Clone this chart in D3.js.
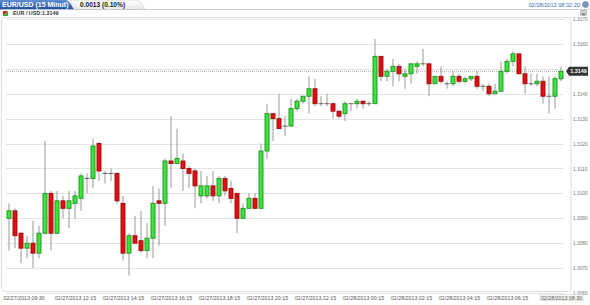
<!DOCTYPE html>
<html>
<head>
<meta charset="utf-8">
<script src="https://cdn.jsdelivr.net/npm/d3@7"></script>
<style>
  body { margin: 0; background: #fff; }
  svg { display: block; font-family: "Liberation Sans", Arial, sans-serif; }
</style>
</head>
<body>
<svg id="chart" width="590" height="305"></svg>
<script>
// 15 minute EUR/USD candles, 02/27/2013 09:30 -> 02/28/2013 08:30
var startTime = "02/27/2013 09:30"
var open  = [1.3090,1.3093,1.3084,1.3078,1.3080,1.3076,1.3084,1.3100,1.3084,1.3097,
             1.3094,1.3096,1.3098,1.3106,1.3106,1.3120,1.3108,1.3108,1.3108,1.3096,
             1.3076,1.3083,1.3081,1.3077,1.3082,1.3097,1.3096,1.3113,1.3112,1.3113,
             1.3110,1.3109,1.3099,1.3099,1.3103,1.3099,1.3106,1.3102,1.3100,1.3090,
             1.3094,1.3098,1.3094,1.3117,1.3132,1.3130,1.3127,1.3127,1.3134,1.3137,
             1.3139,1.3142,1.3136,1.3136,1.3136,1.3133,1.3132,1.3136,1.3136,1.3137,
             1.3136,1.3136,1.3155,1.3147,1.3149,1.3151,1.3147,1.3148,1.3151,1.3152,
             1.3152,1.3144,1.3147,1.3144,1.3144,1.3147,1.3145,1.3146,1.3147,1.3143,
             1.3143,1.3140,1.3141,1.3149,1.3153,1.3156,1.3148,1.3144,1.3144,1.3145,
             1.3139,1.3139,1.3146]
var high  = [1.3096,1.3094,1.30845,1.3083,1.3089,1.3087,1.3121,1.3101,1.3101,1.3099,
             1.3101,1.3101,1.3108,1.3108,1.3122,1.31205,1.3109,1.3110,1.31085,1.3099,
             1.3084,1.3091,1.3093,1.3088,1.3103,1.3102,1.3114,1.3131,1.3126,1.3116,
             1.3111,1.3110,1.3109,1.3107,1.3109,1.3107,1.3107,1.3105,1.3100,1.3096,
             1.3100,1.3100,1.3120,1.3136,1.3132,1.3140,1.3131,1.3138,1.3138,1.3139,
             1.3147,1.3146,1.3139,1.3140,1.3136,1.3133,1.3137,1.3136,1.3138,1.3137,
             1.3137,1.3162,1.3155,1.3150,1.3154,1.3152,1.3150,1.3152,1.3153,1.3158,
             1.3152,1.3147,1.3151,1.3145,1.3149,1.3148,1.3147,1.3147,1.3149,1.3144,
             1.3144,1.3144,1.3153,1.3154,1.3157,1.3156,1.3151,1.3148,1.3148,1.3147,
             1.3147,1.3147,1.3151]
var low   = [1.3077,1.3078,1.3072,1.3074,1.3070,1.3074,1.30835,1.3077,1.30835,1.3090,
             1.3086,1.3090,1.3093,1.3100,1.3102,1.3105,1.3104,1.3105,1.3096,1.3073,
             1.3067,1.3080,1.3076,1.3074,1.3074,1.3079,1.3087,1.3102,1.3112,1.3101,
             1.3102,1.3094,1.3096,1.3098,1.3097,1.3096,1.3099,1.3096,1.3084,1.3090,
             1.3094,1.3094,1.3094,1.3114,1.3121,1.3126,1.3123,1.3127,1.3133,1.3136,
             1.3132,1.3135,1.3135,1.3135,1.3130,1.3130,1.3129,1.3133,1.3134,1.3134,
             1.3135,1.3136,1.3145,1.3145,1.3143,1.3145,1.3142,1.3144,1.3148,1.3151,
             1.3139,1.3144,1.3144,1.3142,1.3143,1.3144,1.3144,1.3145,1.3142,1.3141,
             1.3139,1.3140,1.3141,1.3148,1.3151,1.3148,1.3140,1.3143,1.3143,1.3136,
             1.3132,1.3134,1.3145]
var close = [1.3093,1.3083,1.3078,1.3080,1.3076,1.3084,1.3100,1.3084,1.3097,1.3094,
             1.3097,1.3099,1.3107,1.3106,1.3119,1.3109,1.3108,1.3108,1.3097,1.3076,
             1.3083,1.3080,1.3077,1.3082,1.3096,1.3096,1.3113,1.3112,1.3114,1.3110,
             1.3108,1.3103,1.3103,1.3103,1.3099,1.3106,1.3101,1.3098,1.3090,1.3094,
             1.3098,1.3094,1.3117,1.3132,1.3130,1.3126,1.3127,1.3134,1.3137,1.3139,
             1.3142,1.3136,1.3136,1.3136,1.3133,1.3131,1.3136,1.3136,1.3137,1.3136,
             1.3136,1.3155,1.3147,1.3149,1.3151,1.3148,1.3148,1.3152,1.3152,1.3152,
             1.3144,1.3147,1.3145,1.3144,1.3147,1.3145,1.3146,1.3147,1.3143,1.3143,
             1.3140,1.3141,1.3149,1.3153,1.3156,1.3148,1.3144,1.3144,1.3145,1.3139,
             1.3139,1.3146,1.3149]
var yTicks = [1.3060,1.3070,1.3080,1.3090,1.3100,1.3110,1.3120,1.3130,1.3140,1.3150,1.3160,1.3170]
var xTickLabels = ["02/27/2013 09:30","02/27/2013 12:15","02/27/2013 14:15","02/27/2013 16:15",
                   "02/27/2013 18:15","02/27/2013 20:15","02/27/2013 22:15","02/28/2013 00:15",
                   "02/28/2013 02:15","02/28/2013 04:15","02/28/2013 06:15","02/28/2013 08:30"]
var lastPrice = 1.3149
var changeText = "0.0013 (0.10%)"
var titleText = "EUR/USD (15 Minut)"
var quoteText = "EUR / USD:1.3149"
var clockText = "02/28/2013 08:32:20"

var parse = d3.timeParse("%m/%d/%Y %H:%M")
var fmt = d3.timeFormat("%m/%d/%Y %H:%M")
var t0 = parse(startTime)
var times = d3.timeMinute.every(15).range(t0, d3.timeMinute.offset(t0, 15 * open.length))
var data = times.map(function (t, i) {
  return {t: t, o: open[i], h: high[i], l: low[i], c: close[i]}
})

var svg = d3.select("#chart")

var x = d3.scaleTime()
  .domain([times[0], times[times.length - 1]])
  .range([9, 561])
var y = d3.scaleLinear()
  .domain([1.3060, 1.3170])
  .range([293, 19])

// header tabs
var defs = svg.append("defs")
var grad = defs.append("linearGradient").attr("id", "tabBlue").attr("x1", 0).attr("y1", 0).attr("x2", 0).attr("y2", 1)
grad.append("stop").attr("offset", "0%").attr("stop-color", "#5f8fd2")
grad.append("stop").attr("offset", "100%").attr("stop-color", "#1c51a3")
var grad2 = defs.append("linearGradient").attr("id", "tabGray").attr("x1", 0).attr("y1", 0).attr("x2", 0).attr("y2", 1)
grad2.append("stop").attr("offset", "0%").attr("stop-color", "#ffffff")
grad2.append("stop").attr("offset", "100%").attr("stop-color", "#e8e8e8")

svg.append("path")
  .attr("d", "M71,0 L136,0 Q139,0 141,3 L145,9.5 L71,9.5 Z")
  .attr("fill", "url(#tabGray)")
  .attr("stroke", "#c8c8c8")
  .attr("stroke-width", 0.6)
svg.append("path")
  .attr("d", "M0,0 L66,0 Q68,0 70,3 L74,9.5 L0,9.5 Z")
  .attr("fill", "url(#tabBlue)")
svg.append("line")
  .attr("x1", 0).attr("x2", 590).attr("y1", 9.5).attr("y2", 9.5)
  .attr("stroke", "#c4c4c4").attr("stroke-width", 0.8)

svg.append("text")
  .attr("x", 2).attr("y", 7.3)
  .attr("font-size", "7px").attr("font-weight", "bold")
  .attr("fill", "#fff")
  .text(titleText)
svg.append("text")
  .attr("x", 80).attr("y", 7.3)
  .attr("font-size", "6.6px").attr("font-weight", "bold")
  .attr("fill", "#222")
  .text(changeText)
svg.append("text")
  .attr("x", 580).attr("y", 6.8)
  .attr("text-anchor", "end")
  .attr("font-size", "5.6px")
  .attr("fill", "#3a6ab0")
  .text(clockText)
svg.append("circle")
  .attr("cx", 585.5).attr("cy", 4.5).attr("r", 3)
  .attr("fill", "#7d95b8").attr("stroke", "#4f6a93").attr("stroke-width", 0.5)

// quote line
svg.append("path").attr("d", "M3,11 L8,11 L3,16 Z").attr("fill", "#e02020")
svg.append("path").attr("d", "M8,11 L8,16 L3,16 Z").attr("fill", "#22c022")
svg.append("text")
  .attr("x", 13).attr("y", 15.3)
  .attr("font-size", "5.4px").attr("font-weight", "bold")
  .attr("fill", "#333")
  .text(quoteText)

// save icon
svg.append("rect")
  .attr("x", 580.5).attr("y", 10.5).attr("width", 6).attr("height", 5).attr("rx", 1)
  .attr("fill", "#d8d8d8").attr("stroke", "#8a8a8a").attr("stroke-width", 0.6)
svg.append("rect")
  .attr("x", 582).attr("y", 13).attr("width", 3).attr("height", 2)
  .attr("fill", "#888")

// plot frame
svg.append("rect")
  .attr("x", 1.5).attr("y", 17.5).attr("width", 569.5).attr("height", 274)
  .attr("rx", 3)
  .attr("fill", "none")
  .attr("stroke", "#dcdcdc")

// gridlines
svg.append("g")
  .attr("transform", "translate(564,0)")
  .call(d3.axisLeft(y).tickValues(yTicks).tickSize(558).tickFormat(""))
  .call(function (g) {
    g.select(".domain").remove()
    g.selectAll("line").attr("stroke", "#e4e4e4").attr("shape-rendering", "crispEdges")
  })

// y labels (the one hidden behind the price tag is left out)
svg.append("g")
  .attr("transform", "translate(572,0)")
  .call(d3.axisRight(y)
    .tickValues(yTicks.filter(function (v) { return Math.abs(v - lastPrice) > 0.0003 }))
    .tickSize(0).tickPadding(1).tickFormat(d3.format(".4f")))
  .call(function (g) {
    g.select(".domain").remove()
    g.selectAll("text")
      .attr("font-size", "4.8px")
      .attr("font-family", "Liberation Sans, Arial, sans-serif")
      .attr("fill", "#777")
  })

// x labels
var xAxis = svg.append("g")
  .attr("transform", "translate(0,294)")
  .call(d3.axisBottom(x).tickValues(xTickLabels.map(parse)).tickSize(0).tickPadding(2).tickFormat(fmt))
xAxis.select(".domain").remove()
xAxis.selectAll("text")
  .attr("font-size", "5.3px")
  .attr("font-family", "Liberation Sans, Arial, sans-serif")
  .attr("fill", "#555")
xAxis.selectAll(".tick").filter(function (d, i) { return i === 0 })
  .select("text").attr("text-anchor", "start").attr("x", -6)

// current time marker box at bottom right
var lastTick = xAxis.selectAll(".tick").filter(function (d, i) { return i === xTickLabels.length - 1 })
var lb = lastTick.select("text").node().getBBox()
lastTick.insert("rect", "text")
  .attr("x", lb.x - 1).attr("y", lb.y)
  .attr("width", lb.width + 2).attr("height", lb.height)
  .attr("fill", "#f6f6f6").attr("stroke", "#cfcfcf").attr("stroke-width", 0.5)

// last price dotted line
svg.append("line")
  .attr("x1", 6).attr("x2", 564)
  .attr("y1", y(lastPrice)).attr("y2", y(lastPrice))
  .attr("stroke", "#999").attr("stroke-width", 0.8)
  .attr("stroke-dasharray", "1,1")

// candles
var candle = svg.append("g").selectAll("g")
  .data(data)
  .join("g")

candle.append("line")
  .attr("x1", function (d) { return x(d.t) })
  .attr("x2", function (d) { return x(d.t) })
  .attr("y1", function (d) { return y(d.h) })
  .attr("y2", function (d) { return y(d.l) })
  .attr("stroke", "#999")
  .attr("stroke-width", 1)

candle.append("rect")
  .attr("x", function (d) { return x(d.t) - 2 })
  .attr("width", 4)
  .attr("y", function (d) { return y(Math.max(d.o, d.c)) })
  .attr("height", function (d) { return Math.max(0.01, Math.abs(y(d.o) - y(d.c))) })
  .attr("fill", function (d) { return d.c > d.o ? "#3ae63a" : (d.c < d.o ? "#e01010" : "#555") })
  .attr("stroke", function (d) { return d.c > d.o ? "#1f8f1f" : (d.c < d.o ? "#9a0c0c" : "#555") })
  .attr("stroke-width", 0.9)

// price tag
var py = y(lastPrice)
svg.append("path")
  .attr("d", "M566," + py + " L569," + (py - 4.5) + " L588," + (py - 4.5) + " L588," + (py + 4.5) + " L569," + (py + 4.5) + " Z")
  .attr("fill", "#333")
svg.append("text")
  .attr("x", 578.5).attr("y", py + 1.9)
  .attr("text-anchor", "middle")
  .attr("font-size", "5.4px").attr("font-weight", "bold")
  .attr("fill", "#fff")
  .text(d3.format(".4f")(lastPrice))
</script>
</body>
</html>
